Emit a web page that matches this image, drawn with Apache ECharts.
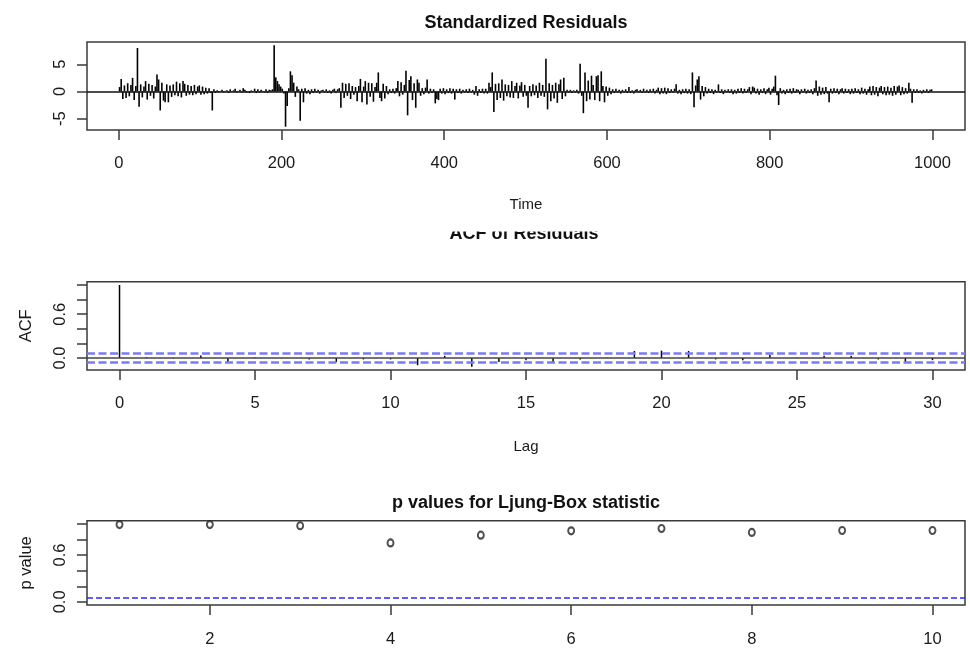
<!DOCTYPE html>
<html>
<head>
<meta charset="utf-8">
<title>ARIMA residual diagnostics</title>
<script src="https://cdn.jsdelivr.net/npm/echarts@6/dist/echarts.min.js"></script>
<style>
  html, body { margin: 0; padding: 0; background: #fff; }
  #chart { width: 970px; height: 648px; }
</style>
</head>
<body>
<div id="chart"></div>
<script>
// Standardized residuals, one value per second time step (t = 1, 3, 5, ..., 999)
const stdResiduals = [
  0.8, 2.3, -1.4, 1.1, -1.2, 1.5, -0.9, 1.2, 2.5, -1.6, 1.0, 8.0, -2.8, 1.3, -1.1, 0.9, 1.9, -1.5, 1.4, -0.8, 1.2, -1.3, 0.9, 3.1, 2.2,
  -3.5, 1.6, -1.7, -2.0, 1.3, -2.0, 1.1, -1.0, 1.3, -0.7, 1.8, -0.9, 1.5, -1.1, 1.9, 1.4, -0.8, 1.2, -0.6, 1.0, -0.7, 1.2, -0.5, 0.9, 1.1,
  -0.6, 0.9, -0.5, 0.7, -0.4, 0.6, -0.3, -3.5, 0.4, -0.3, 0.2, -0.2, 0.1, 0.3, -0.2, 0.1, 0.2, -0.3, 0.4, -0.1, 0.2, 0.5, -0.2, 0.1, 0.3,
  -0.2, 0.6, 0.3, -0.2, 0.1, -0.3, 0.2, 0.1, 0.5, -0.3, 0.4, -0.2, 0.3, 0.1, -0.2, 0.4, -0.3, 0.3, 0.2, 0.4, 8.5, 2.6, 1.9, 1.3, 0.9,
  0.5, -0.4, -6.5, -2.7, 0.6, 3.7, 3.0, 1.6, -1.0, 0.9, 0.4, -5.4, 0.5, -2.0, 0.6, -0.4, 0.3, -0.5, 0.4, -0.3, 0.5, -0.2, 0.3, -0.4, 0.2,
  0.3, -0.2, 0.4, -0.3, 0.2, -0.4, 0.3, 0.5, -0.3, 0.4, 0.6, -3.0, 1.6, -1.2, 1.4, -0.8, 1.5, -1.4, 1.0, -0.6, 0.8, -1.8, 1.0, 2.3, -2.0,
  0.9, 1.9, -2.4, 1.6, -1.0, 1.5, -1.9, 0.8, 1.6, 3.5, -1.2, -1.8, 1.4, -1.3, 1.0, -0.5, 0.4, -0.3, 0.5, -0.4, 0.6, 1.9, -0.9, 1.7, -0.6,
  1.2, 3.8, -4.4, 2.1, 2.8, -1.6, 1.5, -3.0, 2.2, 1.6, -0.8, 0.6, -0.5, 0.7, 2.2, -0.4, 0.5, -0.3, 0.4, -2.2, -1.4, -1.6, 0.5, -0.4, 0.6,
  -0.5, 0.4, -0.3, 0.6, -0.4, 0.5, -1.5, 0.4, -0.3, 0.5, -0.4, 0.3, -0.2, 0.4, -0.3, 0.5, -0.2, 0.3, -0.6, 1.0, -0.8, 0.4, -0.3, 0.5, -0.4,
  0.5, -0.4, 1.6, 0.8, 3.5, -3.8, 1.4, -1.6, 1.5, -1.2, 2.2, -1.7, 1.3, -0.9, 1.2, -1.1, 1.9, -1.2, 1.0, 1.6, -1.3, 1.1, 1.7, -1.0, 1.2,
  -0.8, -3.0, 1.0, -0.9, 1.3, -0.7, 1.1, -1.2, 1.6, -0.8, 1.2, -1.0, 6.0, -3.3, 1.5, -1.8, 1.2, -1.3, 1.6, -2.1, 1.3, 2.2, -1.4, 2.5, -0.9,
  0.3, -0.2, 0.3, -0.3, 0.2, -0.2, 0.3, -0.4, 5.1, -0.8, -4.0, 3.5, -1.8, 2.0, -1.5, 2.9, 1.2, -1.6, 2.8, 3.0, -1.8, 3.7, 1.0, -2.0, 0.9,
  -0.8, 0.7, -0.5, 0.4, -0.3, 0.5, -0.2, 0.3, -0.4, 0.3, -0.2, 0.4, -0.3, 0.8, -0.3, 0.2, -0.4, 0.3, 0.4, -0.2, 0.3, -0.3, 0.5, -0.2, 0.3,
  -0.3, 0.4, -0.2, 0.5, -0.4, 0.3, 0.7, -0.5, 0.6, -0.4, 0.7, -0.5, 0.6, -0.3, 0.4, -0.2, 0.5, 1.3, -0.4, 0.3, -0.5, 0.4, -0.3, 0.5, -0.4,
  0.4, -0.5, 3.5, -2.9, 1.1, 2.2, 2.8, -1.5, 1.0, -0.9, 0.8, -0.4, 0.5, -0.3, 0.4, -0.5, 0.3, -0.2, 1.3, -0.3, 0.4, -0.5, 0.3, -0.2, 0.4,
  -0.3, 0.4, -0.5, 0.3, -0.4, 0.5, -0.3, 0.6, -0.4, 0.5, -0.3, 0.4, 0.8, -0.5, 0.9, 0.7, -0.4, 0.5, -0.6, 0.4, -0.3, 0.6, -0.5, 0.4, 0.7,
  -0.6, 0.5, 0.9, 2.9, -0.7, -2.5, 0.6, -0.4, 0.3, -0.5, 0.4, -0.3, 0.5, -0.4, 0.6, -0.3, 0.4, 0.3, -0.5, 0.4, -0.2, 0.5, -0.4, 0.3, -0.3,
  0.4, -0.5, 0.6, 2.0, -0.8, 0.9, -0.6, 0.7, -0.5, 0.8, -0.4, -2.0, 0.5, -0.4, 0.6, -0.3, 0.5, -0.5, 0.4, 0.6, -0.4, 0.5, -0.3, 0.4, -0.5,
  0.5, -0.4, 0.6, -0.3, 0.4, -0.5, 0.7, -0.4, 0.5, -0.6, 0.4, 0.9, -0.7, 1.0, -0.6, 0.8, -0.9, 0.7, 1.0, -0.5, 0.8, -0.7, 0.9, -0.6, 0.7,
  -0.8, 1.0, -0.6, 0.9, 1.1, -0.7, 0.8, -0.5, 0.6, -0.4, 1.6, 0.5, -2.1, 0.4, -0.3, 0.4, -0.3, 0.2, -0.4, 0.3, -0.2, 0.4, -0.3, 0.3, 0.4
];

// Autocorrelation of residuals, lags 0..30
const acfLags = [0, 1, 2, 3, 4, 5, 6, 7, 8, 9, 10, 11, 12, 13, 14, 15, 16, 17, 18, 19, 20, 21, 22, 23, 24, 25, 26, 27, 28, 29, 30];
const acfValues = [1.0, 0.01, -0.005, 0.035, -0.06, 0.005, -0.004, -0.02, -0.055, -0.02, -0.02, -0.1, 0.03, -0.12, -0.055,
  -0.03, -0.065, -0.02, 0.005, 0.095, 0.1, 0.095, -0.02, -0.03, 0.045, 0.003, 0.03, 0.03, -0.02, -0.055, -0.03];
const acfBound = 0.062; // 1.96 / sqrt(1000)

// Ljung-Box p-values, lags 1..10
const lbLags = [1, 2, 3, 4, 5, 6, 7, 8, 9, 10];
const lbPValues = [0.99, 0.99, 0.975, 0.755, 0.855, 0.91, 0.94, 0.89, 0.915, 0.915];
const lbLevel = 0.05;

// Tick positions and label positions
const residXTicks = [0, 200, 400, 600, 800, 1000];
const residYTicks = [-5, 0, 5];
const acfXTicks = [0, 5, 10, 15, 20, 25, 30];
const unitYTicks = [0, 0.2, 0.4, 0.6, 0.8, 1.0];
const unitYLabels = [0, 0.6];
const lbXTicks = [2, 4, 6, 8, 10];

const residTime = stdResiduals.map((_, i) => 1 + 2 * i);

const TEXT_FONT = '"Liberation Sans", Arial, sans-serif';
const INK = '#1a1a1a';
const BOX = '#3a3a3a';

const chart = echarts.init(document.getElementById('chart'), null, { renderer: 'canvas' });

// vertical "type h" spikes from zero to each value
function spikeRenderer(width, color) {
  return function (params, api) {
    const x = api.value(0), y = api.value(1);
    const p0 = api.coord([x, 0]);
    const p1 = api.coord([x, y]);
    return {
      type: 'line',
      shape: { x1: p0[0], y1: p0[1], x2: p1[0], y2: p1[1] },
      style: { stroke: color, lineWidth: width }
    };
  };
}

function xAxisDef(gridIndex, min, max, ticks, name, nameGap, labelMargin) {
  return {
    type: 'value', gridIndex, min, max,
    axisLine: { show: false, onZero: false },
    splitLine: { show: false },
    axisTick: { show: true, length: 10, customValues: ticks, lineStyle: { color: BOX, width: 1.5 } },
    axisLabel: { customValues: ticks, margin: labelMargin, color: INK, fontSize: 16.5, fontFamily: TEXT_FONT, formatter: v => String(v) },
    name, nameLocation: 'middle', nameGap,
    nameTextStyle: { color: INK, fontSize: 15, fontFamily: TEXT_FONT }
  };
}

function yAxisDef(gridIndex, min, max, ticks, labels, fmt, name) {
  return {
    type: 'value', gridIndex, min, max,
    axisLine: { show: false, onZero: false },
    splitLine: { show: false },
    axisTick: { show: true, length: 10, customValues: ticks, lineStyle: { color: BOX, width: 1.5 } },
    axisLabel: { customValues: labels, rotate: 90, margin: 18, color: INK, fontSize: 16.5, fontFamily: TEXT_FONT, formatter: fmt },
    name: name || '', nameLocation: 'middle', nameGap: 52,
    nameTextStyle: { color: INK, fontSize: 16.5, fontFamily: TEXT_FONT }
  };
}

const gridBase = { left: 87, width: 878, show: true, borderColor: BOX, borderWidth: 1.5, backgroundColor: 'transparent' };

const option = {
  animation: false,
  backgroundColor: '#fff',
  grid: [
    Object.assign({ top: 42, height: 88 }, gridBase),
    Object.assign({ top: 281.7, height: 88.3 }, gridBase),
    Object.assign({ top: 520.7, height: 88.6 }, gridBase)
  ],
  xAxis: [
    xAxisDef(0, -39, 1040, residXTicks, 'Time', 67, 25),
    xAxisDef(1, -1.2, 31.2, acfXTicks, 'Lag', 69, 25),
    xAxisDef(2, 0.64, 10.36, lbXTicks, '', 0, 26)
  ],
  yAxis: [
    yAxisDef(0, -7.1, 9.1, residYTicks, residYTicks, v => String(v), ''),
    yAxisDef(1, -0.165, 1.045, unitYTicks, unitYLabels, v => v.toFixed(1), 'ACF'),
    yAxisDef(2, -0.04, 1.04, unitYTicks, unitYLabels, v => v.toFixed(1), 'p value')
  ],
  series: [
    {
      type: 'custom', xAxisIndex: 0, yAxisIndex: 0, silent: true,
      renderItem: spikeRenderer(1.6, '#000'),
      data: residTime.map((t, i) => [t, stdResiduals[i]]),
      markLine: {
        silent: true, symbol: 'none', label: { show: false },
        lineStyle: { color: '#111', width: 1.5, type: 'solid' },
        data: [{ yAxis: 0 }]
      }
    },
    {
      type: 'custom', xAxisIndex: 1, yAxisIndex: 1, silent: true,
      renderItem: spikeRenderer(1.5, '#000'),
      data: acfLags.map((l, i) => [l, acfValues[i]]),
      markLine: {
        silent: true, symbol: 'none', label: { show: false },
        data: [
          { yAxis: 0, lineStyle: { color: '#444', width: 1.5, type: 'solid' } },
          { yAxis: acfBound, lineStyle: { color: '#7b7bf2', width: 2.6, type: [8, 3.5] } },
          { yAxis: -acfBound, lineStyle: { color: '#7b7bf2', width: 2.6, type: [8, 3.5] } }
        ]
      }
    },
    {
      type: 'scatter', xAxisIndex: 2, yAxisIndex: 2, silent: true,
      symbol: 'emptyCircle', symbolSize: [6, 7],
      itemStyle: { color: '#222', borderColor: '#222', borderWidth: 1.3 },
      data: lbLags.map((l, i) => [l, lbPValues[i]]),
      markLine: {
        silent: true, symbol: 'none', label: { show: false },
        lineStyle: { color: '#2b2bf2', width: 1.6, type: [6, 3] },
        data: [{ yAxis: lbLevel }]
      }
    }
  ],
  graphic: [
    { type: 'text', x: 526, y: 23, z: 10,
      style: { text: 'Standardized Residuals', fill: '#111', fontSize: 18, fontWeight: 'bold', fontFamily: TEXT_FONT, align: 'center', verticalAlign: 'middle' } },
    { type: 'text', x: 524, y: 234, z: 10,
      style: { text: 'ACF of Residuals', fill: '#111', fontSize: 18, fontWeight: 'bold', fontFamily: TEXT_FONT, align: 'center', verticalAlign: 'middle' } },
    // the panel above overlaps the upper half of the ACF heading
    { type: 'rect', z: 11, shape: { x: 420, y: 214, width: 210, height: 17.5 }, style: { fill: '#fff' } },
    { type: 'text', x: 526, y: 503, z: 10,
      style: { text: 'p values for Ljung-Box statistic', fill: '#111', fontSize: 18, fontWeight: 'bold', fontFamily: TEXT_FONT, align: 'center', verticalAlign: 'middle' } }
  ]
};

chart.setOption(option);
</script>
</body>
</html>
